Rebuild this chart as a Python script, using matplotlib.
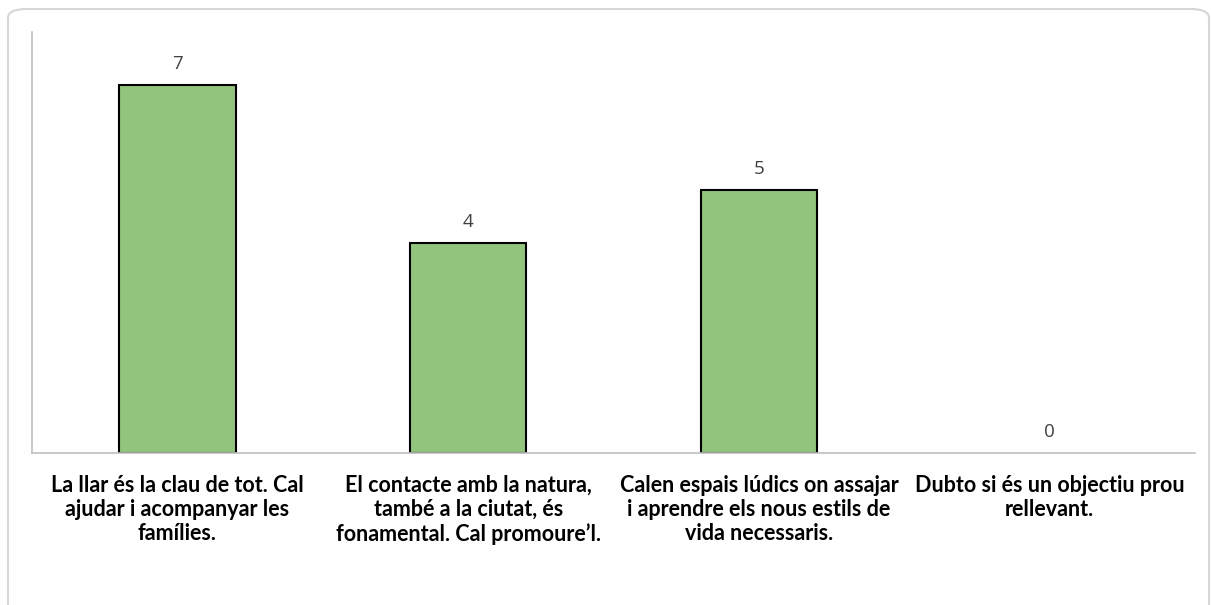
import matplotlib
matplotlib.use('Agg')
from matplotlib import pyplot as plt
from matplotlib.patches import FancyBboxPatch

categories = [
    'La llar és la clau de tot. Cal\najudar i acompanyar les\nfamílies.',
    'El contacte amb la natura,\ntambé a la ciutat, és\nfonamental. Cal promoure’l.',
    'Calen espais lúdics on assajar\ni aprendre els nous estils de\nvida necessaris.',
    'Dubto si és un objectiu prou\nrellevant.',
]
values = [7, 4, 5, 0]

W, H = 1211, 605
fig = plt.figure(figsize=(W / 100, H / 100), dpi=100)

# outer chart border with rounded corner
border = FancyBboxPatch((8 / W, -0.05), (1201 / W), 1 - 9 / H + 0.05,
                        boxstyle='round,pad=0,rounding_size=0.015',
                        transform=fig.transFigure, fill=False,
                        edgecolor='#D6D6D6', linewidth=1.5)
fig.patches.append(border)

ax = fig.add_axes([32 / W, 1 - 453 / H, (1195 - 32) / W, (453 - 32) / H])
x = range(len(values))
bars = ax.bar(x, values, width=0.4, color='#93C47D', edgecolor='black',
              linewidth=[1.5 if v > 0 else 0 for v in values])

for xi, v in zip(x, values):
    ax.text(xi, v + 0.22, str(v), ha='center', va='bottom',
            fontsize=13.5, color='#404040', family='Open Sans')

ax.set_xlim(-0.5, len(values) - 0.5)
ax.set_ylim(0, 8)
ax.set_yticks([])
ax.set_xticks(list(x))
ax.set_xticklabels(categories, fontsize=15.5, fontweight='bold', family='Lato',
                   linespacing=1.2)
ax.tick_params(axis='x', length=0, pad=15.5)

for side in ['top', 'right']:
    ax.spines[side].set_visible(False)
for side in ['left', 'bottom']:
    ax.spines[side].set_color('#BFBFBF')
    ax.spines[side].set_linewidth(1.2)

fig.savefig('out.png', dpi=100)
